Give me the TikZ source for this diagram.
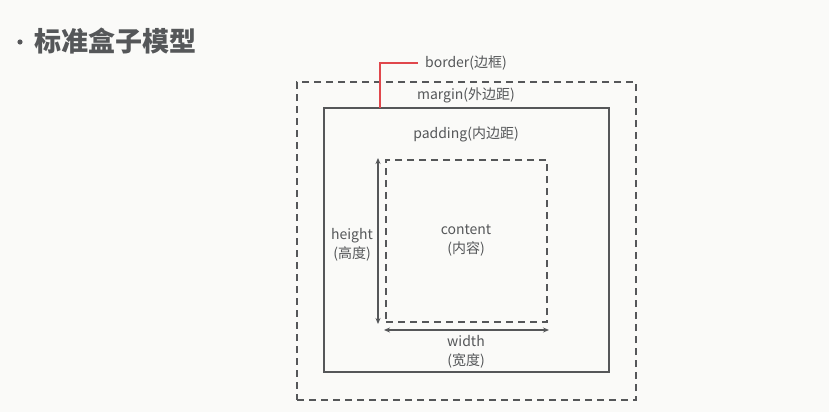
\documentclass[tikz,border=0pt]{standalone}
\usepackage{fontspec}
\setmainfont{Noto Sans CJK SC}
\usetikzlibrary{arrows.meta}
\definecolor{ink}{HTML}{555759}
\definecolor{bg}{HTML}{FAFAF8}
\definecolor{redline}{HTML}{E0474C}
\tikzset{
  dashbox/.style={draw=ink, line width=1.6pt, dash pattern=on 7pt off 5pt},
  solidbox/.style={draw=ink, line width=1.6pt},
  lbl/.style={text=ink, font=\fontsize{14}{19}\selectfont, inner sep=0pt, align=center},
  dim/.style={draw=ink, line width=1.6pt, {Stealth[length=6pt,width=5pt]}-{Stealth[length=6pt,width=5pt]}}
}
\begin{document}
\begin{tikzpicture}[x=1pt,y=-1pt]
\fill[bg] (0,0) rectangle (829,412);
\useasboundingbox (0,0) rectangle (829,412);
% title
\fill[ink] (20,42) circle (2.6pt);
\node[anchor=west, text=ink, inner sep=0pt, font=\fontsize{27}{30}\selectfont\bfseries] (title) at (34,41) {标准盒子模型};
% boxes
\node[dashbox, minimum width=339pt, minimum height=318pt, inner sep=0pt] (margin) at (466.5,241) {};
\node[solidbox, minimum width=285pt, minimum height=264pt, inner sep=0pt] (border) at (466.5,240) {};
\node[dashbox, minimum width=161pt, minimum height=162pt, inner sep=0pt] (content) at (466.5,241) {};
% labels
\node[lbl] (lborder) at (466,63) {border(边框)};
\node[lbl] (lmargin) at (466,95) {margin(外边距)};
\node[lbl] (lpadding) at (466,134) {padding(内边距)};
\node[lbl] (lcontent) at (466,240) {content\\(内容)};
\node[lbl] (lheight) at (352,245) {height\\(高度)};
\node[lbl] (lwidth) at (466,352) {width\\(宽度)};
% red leader
\coordinate (rb) at (380,108);
\draw[redline, line width=1.5pt] (rb) |- ([xshift=-7pt]lborder.west);
% dimension arrows
\coordinate (h1) at (378,158);
\coordinate (h2) at (378,324);
\coordinate (w1) at (384,330);
\coordinate (w2) at (549,330);
\draw[dim] (h1) -- (h2);
\draw[dim] (w1) -- (w2);
\end{tikzpicture}
\end{document}
